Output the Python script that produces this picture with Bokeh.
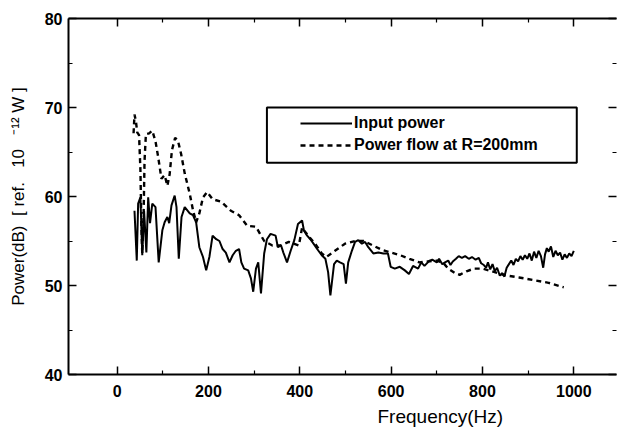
from bokeh.plotting import figure
from bokeh.models import (Range1d, FixedTicker, LinearAxis, Legend, LegendItem,
                          BoxAnnotation, CustomLabelingPolicy, Title)
from bokeh.embed import file_html
from bokeh.resources import INLINE

# ---- data ----
input_freq = [38, 43, 46, 51, 55, 59, 64, 68, 72, 77, 84, 91, 99, 104, 110, 114, 119, 126,
              130, 135, 141, 148, 159, 166, 173, 180, 188, 195, 202, 209, 217, 224, 231, 238,
              246, 253, 260, 267, 272, 278, 287, 293, 298, 304, 309, 315, 322, 328, 336, 347,
              352, 359, 364, 372, 380, 388, 396, 405, 409, 416, 423, 430, 438, 448, 456, 462,
              467, 470, 475, 481, 488, 496, 501, 506, 514, 521, 528, 536, 543, 550, 561, 572,
              583, 593, 599, 608, 619, 630, 639, 648, 659, 666, 673, 684, 690, 700, 705, 712,
              718, 725, 730, 735, 742, 748, 755, 762, 770, 777, 785, 792, 797, 803, 808, 812,
              817, 822, 827, 832, 838, 843, 848, 853, 858, 863, 868, 873, 878, 883, 888, 893,
              898, 903, 908, 913, 918, 923, 928, 933, 937, 941, 945, 950, 955, 960, 965, 970,
              975, 980, 985, 990, 995, 1000]
input_db = [58.4, 52.8, 59.2, 59.9, 53.4, 58.4, 53.7, 59.9, 57.0, 59.2, 58.8, 52.6, 56.2, 57.1,
            57.7, 57.0, 59.0, 60.1, 58.8, 53.0, 57.7, 58.8, 58.1, 57.9, 57.1, 54.3, 53.2, 51.7,
            53.2, 55.6, 55.2, 55.0, 54.1, 53.7, 52.6, 53.4, 53.9, 54.1, 52.6, 51.9, 51.7, 50.8,
            49.3, 51.9, 52.6, 49.1, 53.6, 55.2, 55.8, 55.6, 54.3, 54.5, 53.7, 52.6, 53.9, 55.1,
            56.9, 57.3, 56.2, 55.6, 55.2, 54.7, 54.1, 53.4, 53.0, 51.5, 48.9, 50.2, 52.4, 52.8,
            52.6, 52.4, 50.2, 52.6, 53.9, 54.9, 55.1, 54.7, 54.9, 54.3, 53.6, 53.7, 53.6, 53.6,
            52.1, 51.9, 52.1, 51.7, 51.3, 52.2, 51.9, 52.6, 52.2, 52.8, 52.9, 52.6, 53.0, 52.4,
            52.6, 52.8, 52.3, 52.7, 53.0, 53.3, 53.1, 53.3, 53.0, 53.2, 52.9, 53.1, 52.5, 52.3,
            52.0, 52.6, 51.8, 52.4, 51.6, 52.0, 51.1, 51.4, 51.0, 52.0, 52.4, 52.8, 52.3, 53.0,
            52.7, 53.3, 52.9, 53.4, 53.0, 53.6, 52.8, 53.8, 53.1, 53.9, 53.3, 52.0, 53.5, 54.2,
            53.8, 54.4, 53.2, 53.9, 53.4, 53.7, 52.9, 53.5, 53.1, 53.6, 53.3, 53.9]

flow_freq = [36, 38, 41, 44, 48, 51, 53, 55, 58, 60, 63, 70, 77, 84, 90, 97, 104, 110, 115,
             120, 127, 133, 140, 148, 159, 166, 173, 180, 188, 197, 209, 228, 249, 267, 285,
             304, 322, 340, 358, 376, 398, 405, 412, 420, 435, 448, 458, 477, 499, 521, 540,
             560, 580, 600, 620, 640, 662, 680, 700, 715, 725, 740, 750, 765, 782, 800, 820,
             840, 855, 880, 913, 945, 978]
flow_db = [67.1, 69.2, 68.5, 67.2, 66.9, 63.0, 57.0, 53.6, 58.0, 64.0, 67.0, 67.1, 67.4, 66.2,
           64.4, 62.0, 62.4, 61.2, 62.5, 65.2, 66.6, 66.3, 64.8, 62.6, 60.3, 58.5, 57.1, 58.1,
           59.9, 60.5, 59.7, 59.4, 58.4, 57.9, 56.7, 56.6, 55.0, 54.5, 54.5, 54.9, 54.5, 56.5,
           56.0, 55.5, 54.6, 53.6, 53.2, 53.9, 54.7, 55.0, 55.0, 54.5, 54.0, 53.7, 53.4, 53.0,
           52.6, 52.7, 52.8, 52.5, 51.9, 51.4, 51.2, 51.6, 51.9, 51.9, 51.6, 51.3, 51.1, 50.9,
           50.6, 50.3, 49.8]

x_major = [0, 200, 400, 600, 800, 1000]
x_minor = [100, 300, 500, 700, 900]
y_major = [40, 50, 60, 70, 80]
y_minor = [45, 55, 65, 75]

legend_labels = ["Input power", "Power flow at R=200mm"]
x_label = "Frequency(Hz)"
y_label = ("Power(dB)\u00a0\u00a0[ ref.\u00a0\u00a0\u00a010\u00a0\u00a0\u00a0"
           "\u207b\u00b9\u00b2\u00a0W ]")

FONT = "Liberation Sans"

p = figure(width=620, height=430, output_backend="svg", toolbar_location=None,
           x_range=Range1d(-106.5, 1093.5), y_range=Range1d(40, 80),
           min_border_left=68, min_border_top=18, min_border_bottom=56, min_border_right=0,
           x_axis_location=None, y_axis_location=None)
p.grid.visible = False
p.outline_line_color = None
p.background_fill_color = "white"
p.border_fill_color = "white"

no_labels = CustomLabelingPolicy(code="return new Set()")

def make_axis(ticks, minor, show_labels, line=True):
    ax = LinearAxis(ticker=FixedTicker(ticks=ticks, minor_ticks=minor))
    ax.major_tick_in = 8
    ax.major_tick_out = 0
    ax.minor_tick_in = 4
    ax.minor_tick_out = 0
    ax.major_tick_line_width = 1.5
    ax.minor_tick_line_width = 1.2
    ax.major_tick_line_color = "black"
    ax.minor_tick_line_color = "black"
    ax.axis_line_width = 2
    ax.axis_line_color = "black" if line else None
    if show_labels:
        ax.major_label_text_font = FONT
        ax.major_label_text_font_style = "bold"
        ax.major_label_text_font_size = "16px"
        ax.major_label_text_color = "black"
    else:
        ax.major_label_policy = no_labels
        ax.major_label_text_font_size = "1px"
        ax.major_label_standoff = 0
    return ax

bottom = make_axis(x_major, x_minor, True)
bottom.major_label_standoff = 10
top = make_axis(x_major, x_minor, False)
left = make_axis(y_major, y_minor, True)
left.major_label_standoff = 6
left.axis_label = y_label
left.axis_label_standoff = 14
left.axis_label_text_font = FONT
left.axis_label_text_font_style = "normal"
left.axis_label_text_font_size = "17px"
left.axis_label_text_color = "black"
right = make_axis(y_major, y_minor, False, line=False)
p.add_layout(bottom, "below")
p.add_layout(top, "above")
p.add_layout(left, "left")
p.add_layout(right, "right")

xt = Title(text=x_label, align="left", offset=309, standoff=8, vertical_align="bottom",
           text_font=FONT, text_font_style="normal", text_font_size="19px",
           text_color="black")
p.add_layout(xt, "below")

r1 = p.line(input_freq, input_db, line_color="black", line_width=2)
r2 = p.line(flow_freq, flow_db, line_color="black", line_width=2.4, line_dash="5 4")

box = BoxAnnotation(left=328, right=1006.5, top=70.0, bottom=63.8,
                    fill_alpha=0, line_color="black", line_alpha=1, line_width=2)
p.add_layout(box)

legend = Legend(items=[LegendItem(label=legend_labels[0], renderers=[r1]),
                       LegendItem(label=legend_labels[1], renderers=[r2])],
                location=(232, 219), padding=0, margin=0, spacing=2,
                label_height=20, glyph_height=20, glyph_width=52, label_standoff=2,
                border_line_color=None, background_fill_alpha=0,
                label_text_font=FONT, label_text_font_style="bold",
                label_text_font_size="16px", label_text_color="black")
p.add_layout(legend)

open("out.html", "w").write(file_html(p, INLINE))
